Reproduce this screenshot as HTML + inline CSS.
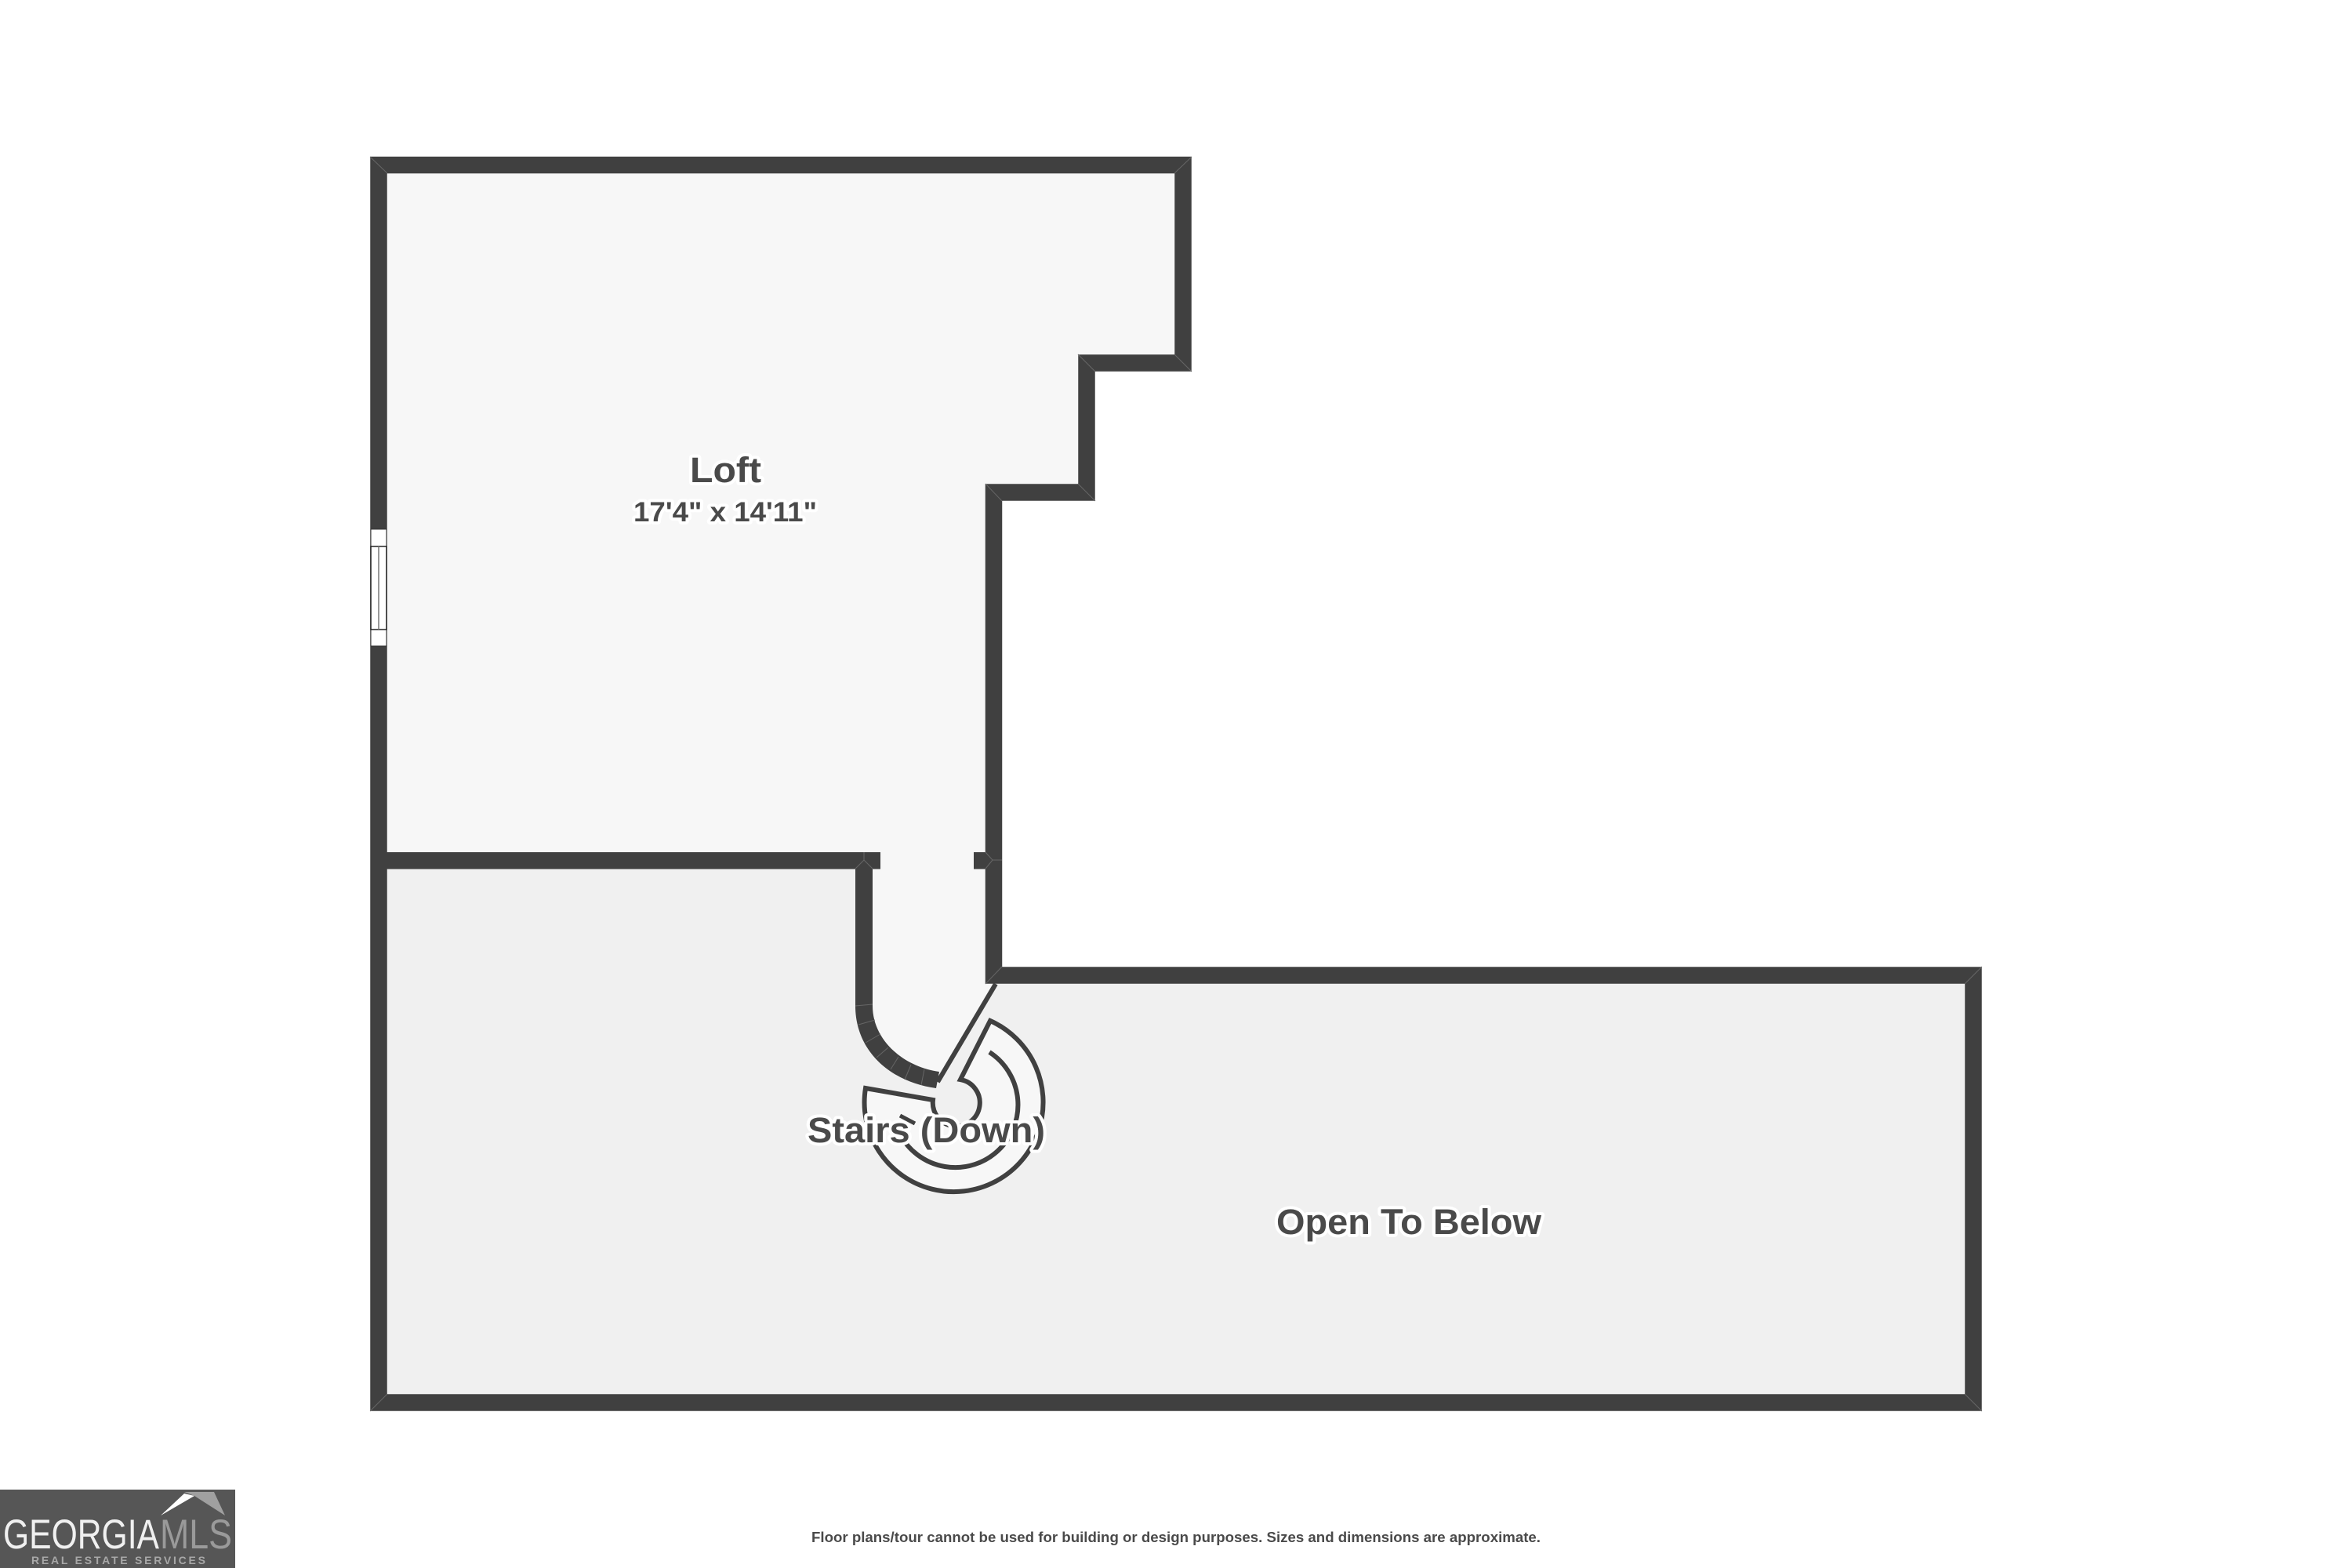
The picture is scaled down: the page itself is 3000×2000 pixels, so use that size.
<!DOCTYPE html>
<html>
<head>
<meta charset="utf-8">
<style>
html,body{margin:0;padding:0;background:#fff;width:3000px;height:2000px;overflow:hidden}
svg{display:block}
.l{font-family:"Liberation Sans",sans-serif;font-weight:700;fill:#4a4a4a;stroke:#fff;stroke-width:8px;paint-order:stroke;stroke-linejoin:round}
</style>
</head>
<body>
<svg width="3000" height="2000" viewBox="0 0 3000 2000" xmlns="http://www.w3.org/2000/svg">
<rect width="3000" height="2000" fill="#fff"/>
<path d="M483 1097H1268V1244H2517V1789H483Z" fill="#f0f0f0"/>
<path d="M483 210H1509V463H1386V628H1268V1255L1197 1380L1170 1375C1130 1360 1102 1325 1102 1283V1097H483Z" fill="#f7f7f7"/>
<!-- stairs -->
<path d="M1263 1302A114 114 0 1 1 1104 1388L1190 1403A30 30 0 1 0 1225 1377Z" fill="#f7f7f7" stroke="#404040" stroke-width="6" stroke-linejoin="miter"/>
<path d="M1262 1342A80 80 0 1 1 1148 1447" fill="none" stroke="#404040" stroke-width="6"/>
<path d="M1148 1423L1167 1433" fill="none" stroke="#404040" stroke-width="5"/>
<path d="M1270 1255L1196 1380" fill="none" stroke="#404040" stroke-width="6"/>
<!-- walls -->
<path d="M483 210.5H1509V463H1386V628H1267.5V1244H2517V1789H483Z" fill="none" stroke="#404040" stroke-width="21.5" stroke-miterlimit="4"/>
<rect x="483" y="1087" width="640" height="21.5" fill="#404040"/>
<rect x="1091" y="1087" width="22" height="196" fill="#404040"/>
<rect x="1242" y="1087" width="20" height="21.5" fill="#404040"/>
<path d="M1091 1283C1091 1340 1135 1380 1194 1388L1198 1367C1150 1360 1113 1325 1113 1283Z" fill="#404040"/>
<!-- seams -->
<g stroke="#666" stroke-width="1" fill="none">
<path d="M472 200L494 221M1520 200L1498 221M1498 452L1520 474M1375 452L1397 474M1375 617L1397 639M1257 617L1278 639M1257 1255L1278 1233M2528 1233L2506 1255M2506 1778L2528 1800M472 1800L494 1778"/>
<path d="M1091 1283L1113 1281M1095 1307L1116 1301M1104 1330L1123 1319M1118 1349L1133 1336M1136 1364L1146 1348M1154 1377L1162 1358M1175 1384L1179 1364"/>
<path d="M1091 1108L1102 1097L1113 1108M1102 1097V1087M1257 1108L1266 1097L1257 1087M1266 1097H1278"/>
</g>
<!-- window -->
<rect x="473" y="675" width="20" height="149" fill="#fff" stroke="#333" stroke-width="1"/>
<rect x="473" y="697" width="20" height="106" fill="#fff" stroke="#222" stroke-width="1.5"/>
<line x1="483" y1="697" x2="483" y2="803" stroke="#777" stroke-width="1.5"/>
<!-- labels -->
<text class="l" x="880" y="615" font-size="45" textLength="91" lengthAdjust="spacingAndGlyphs">Loft</text>
<text class="l" x="808" y="665" font-size="35" textLength="234" lengthAdjust="spacingAndGlyphs">17'4" x 14'11"</text>
<text class="l" x="1030" y="1457" font-size="45" textLength="303" lengthAdjust="spacingAndGlyphs">Stairs (Down)</text>
<text class="l" x="1628" y="1574" font-size="45" textLength="338" lengthAdjust="spacingAndGlyphs">Open To Below</text>
<text x="1035" y="1967" font-family="'Liberation Sans',sans-serif" font-weight="700" font-size="18" fill="#4a4a4a" textLength="930" lengthAdjust="spacingAndGlyphs">Floor plans/tour cannot be used for building or design purposes. Sizes and dimensions are approximate.</text>
<!-- logo -->
<rect x="0" y="1900" width="300" height="100" fill="#565656"/>
<path d="M205 1933L235 1905L248 1908Z" fill="#fff"/>
<path d="M235 1903H273L287 1933L248 1908Z" fill="#a0a0a0"/>
<text x="4" y="1975" font-family="'Liberation Sans',sans-serif" font-size="53" fill="#f0f0f0" textLength="199" lengthAdjust="spacingAndGlyphs">GEORGIA</text>
<text x="204" y="1975" font-family="'Liberation Sans',sans-serif" font-size="53" fill="#9a9a9a" textLength="92" lengthAdjust="spacingAndGlyphs">MLS</text>
<text x="40" y="1995" font-family="'Liberation Sans',sans-serif" font-weight="700" font-size="14" fill="#a8a8a8" textLength="222" lengthAdjust="spacing">REAL ESTATE SERVICES</text>
</svg>
</body>
</html>
